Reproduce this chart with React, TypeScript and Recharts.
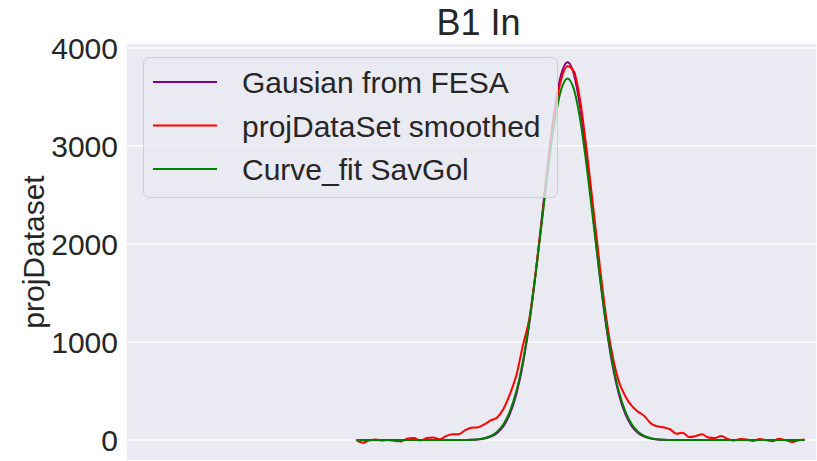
import React from 'react';
import { LineChart, Line, XAxis, YAxis, CartesianGrid } from 'recharts';

// x positions (arbitrary units, tick labels hidden in the original)
const xValues = [
  154, 158, 162, 166, 170, 174, 178, 182, 186, 190, 194, 198, 202, 206, 210, 214, 218, 222,
  226, 230, 234, 238, 242, 246, 250, 254, 258, 262, 266, 270, 274, 278, 282, 286, 290, 294,
  298, 302, 306, 310, 314, 318, 322, 326, 330, 334, 338, 342, 346, 350, 354, 358, 362, 366,
  370, 374, 378, 382, 386, 390, 394, 398, 402, 406, 410, 414, 418, 422, 426, 430, 434,
];

const gausianFesa = [
  0, 0, 0, 0, 0, 0, 0, 0, 0, 0, 0, 0, 0, 0, 0, 0, 0, 0,
  2, 6, 15, 34, 72, 144, 269, 470, 770, 1180, 1695, 2278, 2868, 3380, 3731, 3855, 3731, 3380,
  2868, 2278, 1695, 1180, 770, 470, 269, 144, 72, 34, 15, 6, 2, 0, 0, 0, 0, 0,
  0, 0, 0, 0, 0, 0, 0, 0, 0, 0, 0, 0, 0, 0, 0, 0, 0,
];

const projSmoothed = [
  0, -27, -5, 5, -5, 0, -10, -15, 15, 20, -5, 20, 25, 7, 40, 60, 60, 100,
  125, 130, 160, 200, 230, 320, 470, 660, 960, 1230, 1700, 2250, 2830, 3330, 3680, 3815, 3760, 3450,
  2950, 2380, 1800, 1270, 870, 600, 450, 350, 290, 245, 170, 140, 130, 110, 65, 75, 30, 40,
  58, 25, 20, 40, 10, -5, 10, 5, -10, 10, 0, -13, 13, 0, -20, -5, 5,
];

const curveFitSavGol = [
  0, 0, 0, 0, 0, 0, 0, 0, 0, 0, 0, 0, 0, 0, 0, 0, 0, 0,
  3, 8, 19, 41, 84, 162, 294, 499, 798, 1198, 1689, 2238, 2785, 3256, 3576, 3690, 3576, 3256,
  2785, 2238, 1689, 1198, 798, 499, 294, 162, 84, 41, 19, 8, 3, 0, 0, 0, 0, 0,
  0, 0, 0, 0, 0, 0, 0, 0, 0, 0, 0, 0, 0, 0, 0, 0, 0,
];

const yTicks = [0, 1000, 2000, 3000, 4000];
const xGridTicks = [100, 200, 300, 400];

const series = [
  { key: 'fesa', name: 'Gausian from FESA', color: '#800080' },
  { key: 'smoothed', name: 'projDataSet smoothed', color: '#FF0000' },
  { key: 'savgol', name: 'Curve_fit SavGol', color: '#008000' },
];

const data = xValues.map((x, i) => ({
  x,
  fesa: gausianFesa[i],
  smoothed: projSmoothed[i],
  savgol: curveFitSavGol[i],
}));

const font = '"Liberation Sans", Arial, sans-serif';
const textColor = '#262626';

export default function App() {
  return (
    <div style={{ position: 'absolute', left: 0, top: 0, width: 817, height: 461, background: '#fff' }}>
      <LineChart width={817} height={461} data={data} margin={{ top: 43, right: 0, bottom: 0, left: 0 }}>
        <CartesianGrid fill="#EAEAF2" stroke="#ffffff" strokeWidth={1.5} />
        <XAxis
          dataKey="x"
          type="number"
          domain={[10, 441.9]}
          ticks={xGridTicks}
          tick={false}
          axisLine={false}
          tickLine={false}
          height={0}
          allowDataOverflow
        />
        <YAxis
          type="number"
          domain={[-214, 4051]}
          ticks={yTicks}
          width={126}
          axisLine={false}
          tickLine={false}
          allowDataOverflow
          tick={{ fontSize: 30, fill: textColor, fontFamily: font }}
          label={{
            value: 'projDataset',
            angle: -90,
            position: 'insideLeft',
            offset: 33,
            style: { textAnchor: 'middle', fontSize: 30, fill: textColor, fontFamily: font },
          }}
        />
        {series.map((s) => (
          <Line
            key={s.key}
            type="monotone"
            dataKey={s.key}
            name={s.name}
            stroke={s.color}
            strokeWidth={2}
            dot={false}
            isAnimationActive={false}
          />
        ))}
      </LineChart>
      <svg
        width={817}
        height={461}
        style={{ position: 'absolute', left: 0, top: 0, pointerEvents: 'none' }}
      >
        <text x={478.5} y={35} textAnchor="middle" fontSize={36} fill={textColor} fontFamily={font}>
          B1 In
        </text>
        <rect
          x={143.5}
          y={57.5}
          width={414}
          height={140}
          rx={6}
          fill="rgba(234,234,242,0.8)"
          stroke="#cfcfd4"
          strokeWidth={1}
        />
        {series.map((s, i) => (
          <g key={s.key}>
            <line x1={153} x2={217} y1={82 + i * 43.5} y2={82 + i * 43.5} stroke={s.color} strokeWidth={2} />
            <text x={242} y={82 + i * 43.5 + 11} fontSize={30} fill={textColor} fontFamily={font}>
              {s.name}
            </text>
          </g>
        ))}
      </svg>
    </div>
  );
}
